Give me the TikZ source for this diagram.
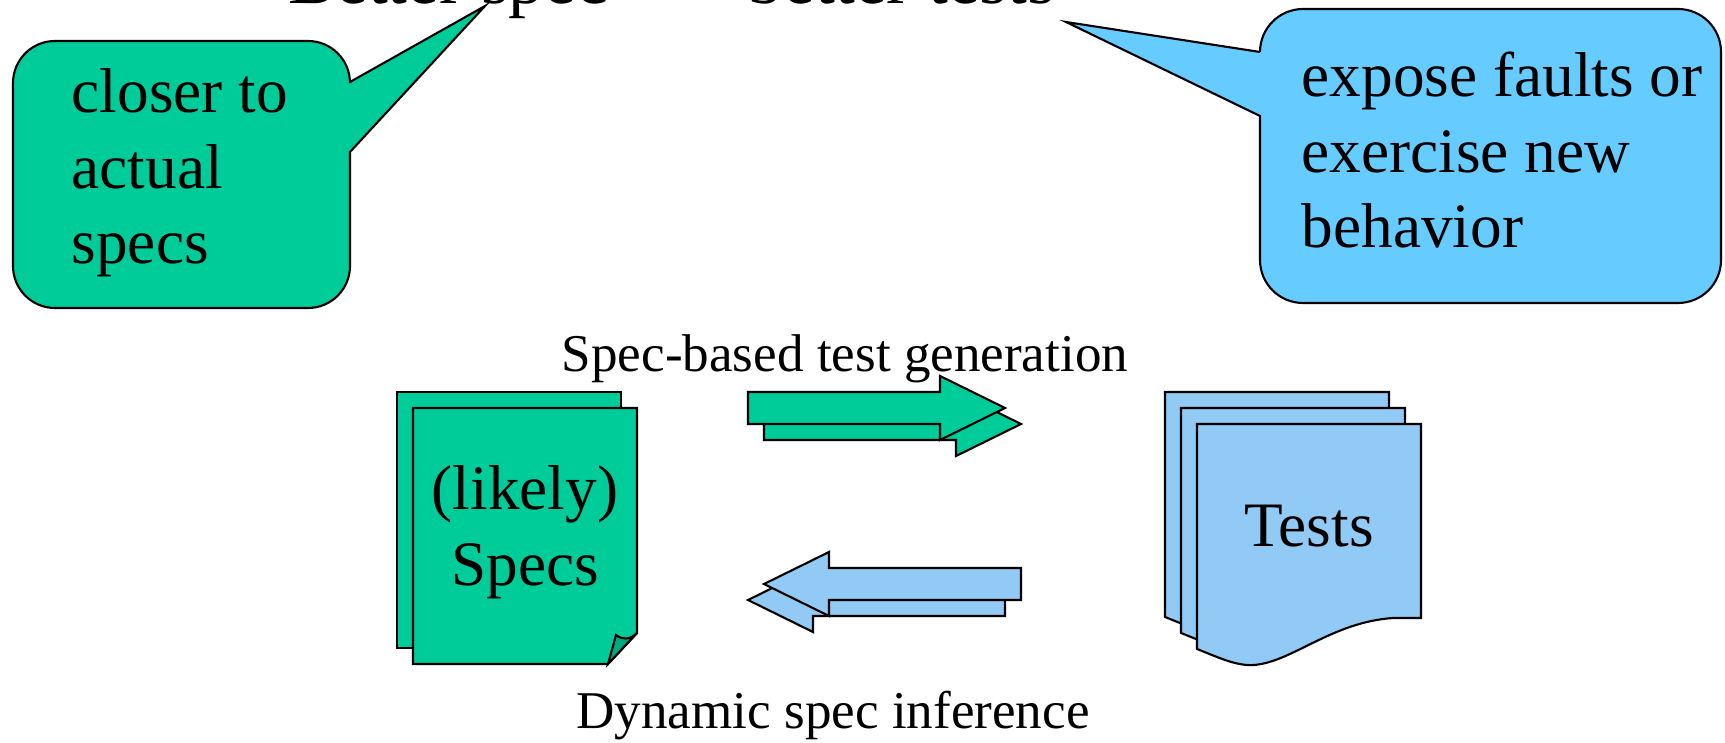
\documentclass[tikz,border=0pt]{standalone}
\usepackage{fontspec}
\setmainfont{Liberation Serif}
\usepackage{tikz}
\usetikzlibrary{positioning}
\definecolor{specgreen}{HTML}{00CC99}
\definecolor{folddark}{HTML}{00A880}
\definecolor{calloutblue}{HTML}{66CCFF}
\definecolor{testblue}{HTML}{91CAF5}
\tikzset{
  outline/.style={draw=black, line width=0.6pt, line join=miter},
  greenpart/.style={outline, fill=specgreen},
  bluepart/.style={outline, fill=testblue},
  calltext/.style={font=\fontsize{18}{21.5}\selectfont, align=left, inner sep=0pt, anchor=base west},
  doctext/.style={font=\fontsize{18}{21.5}\selectfont, align=center, inner sep=0pt, anchor=base},
  edgelabel/.style={font=\fontsize{15.1}{18}\selectfont, inner sep=0pt, anchor=base},
}
\begin{document}
\begin{tikzpicture}[x=0.01cm, y=-0.01cm]
  \useasboundingbox (0,0) rectangle (1725,743);
  % title, mostly above the page
  \node[font=\fontsize{20.3}{24}\selectfont, inner sep=0pt, anchor=base] (title) at (672,4) {Better spec <-> better tests};
  \coordinate (greentip) at (485,6);
  \coordinate (bluetip) at (1066,22);

  % callouts (base anchor = last line)
  \draw[greenpart, rounded corners=0.42cm] (350,152) -- (350,308) -- (13,308) -- (13,41) -- (350,41)
    [sharp corners] -- (350,82) -- (greentip) -- cycle;
  \node[calltext] (closer) at (71,264) {closer to\\actual\\specs};

  \draw[outline, fill=calloutblue, rounded corners=0.43cm] (1260,52) -- (1260,9) -- (1721,9) -- (1721,303) -- (1260,303)
    [sharp corners] -- (1260,116) -- (bluetip) -- cycle;
  \node[calltext] (expose) at (1301,248) {expose faults or\\exercise new\\behavior};

  % specs document
  \draw[greenpart] (397,392) rectangle (621,648);
  \draw[greenpart] (413,408) -- (637,408) -- (637,633) -- (608,664) -- (413,664) -- cycle;
  \draw[outline, fill=folddark] (608,664) -- (616,635) .. controls (622,640) and (630,640) .. (637,633) -- cycle;
  \node[doctext] (specs) at (525,585) {(likely)\\Specs};

  % tests document
  \foreach \s in {0,16,32}
    \draw[bluepart, shift={(\s,\s)}] (1165,392) -- (1389,392) -- (1389,586) -- (1361,586)
      .. controls (1300,590) and (1260,630) .. (1222,633)
      .. controls (1205,634) and (1190,627) .. (1165,617) -- cycle;
  \node[doctext] (tests) at (1309,546) {Tests};

  % block arrows
  \foreach \s in {16,0}
    \draw[greenpart, shift={(\s,\s)}] (748,392) -- (940,392) -- (940,376) -- (1005,408)
      -- (940,440) -- (940,424) -- (748,424) -- cycle;
  \foreach \s in {16,0}
    \draw[bluepart, shift={(-\s,\s)}] (1021,568) -- (829,568) -- (829,552) -- (764,584)
      -- (829,616) -- (829,600) -- (1021,600) -- cycle;

  \node[edgelabel] (gen) at (845,372) {Spec-based test generation};
  \node[edgelabel] (infer) at (833,728) {Dynamic spec inference};
\end{tikzpicture}
\end{document}
